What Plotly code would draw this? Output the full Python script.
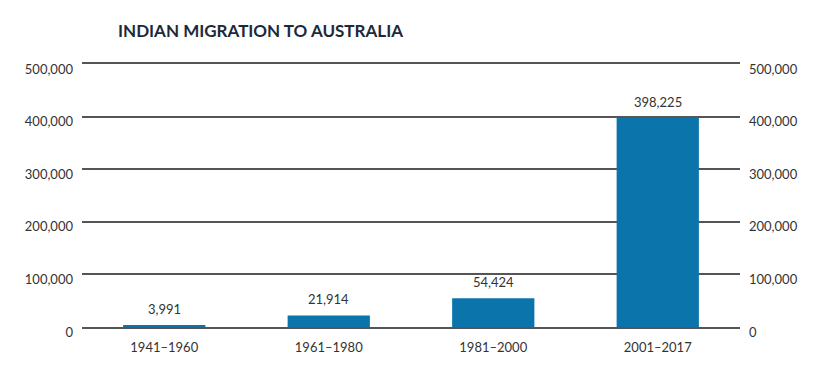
import plotly.graph_objects as go

categories = ["1941–1960", "1961–1980", "1981–2000", "2001–2017"]
values = [3991, 21914, 54424, 398225]
tick_vals = [0, 100000, 200000, 300000, 400000, 500000]
tick_text = ["0", "100,000", "200,000", "300,000", "400,000", "500,000"]
title = "INDIAN MIGRATION TO AUSTRALIA"

fig = go.Figure()
fig.add_trace(go.Bar(
    x=categories, y=values,
    marker=dict(color="#0a74ab", line=dict(width=0)),
    hoverinfo="skip",
))
fig.add_trace(go.Scatter(
    x=categories, y=values, yaxis="y2", mode="markers",
    marker=dict(opacity=0), hoverinfo="skip", showlegend=False,
))
for c, v in zip(categories, values):
    fig.add_annotation(x=c, y=v, text=f"{v:,}", showarrow=False,
                       yanchor="bottom", yshift=6,
                       font=dict(family="Lato", size=13, color="#333333"))

axis_common = dict(
    range=[0, 500000], tickvals=tick_vals, ticktext=tick_text,
    tickfont=dict(family="Lato", size=13, color="#333333"),
    zeroline=False, fixedrange=True, ticklabelshift=5,
)
fig.update_layout(
    width=840, height=369,
    margin=dict(l=82, r=100, t=64, b=42),
    paper_bgcolor="white", plot_bgcolor="white",
    showlegend=False,
    bargap=0.5,
    title=dict(text="<b>" + title + "</b>", x=118 / 840, xanchor="left",
               y=1 - 31 / 369, yanchor="middle",
               font=dict(family="Lato", size=17, color="#1b2a3a")),
    xaxis=dict(showgrid=False, showline=True, mirror=True,
               linecolor="#555555", linewidth=1.5, ticks="",
               tickfont=dict(family="Lato", size=13, color="#333333"),
               ticklabelstandoff=8, fixedrange=True),
    yaxis=dict(showgrid=True, gridcolor="#555555", gridwidth=1.5,
               showline=False, ticklabelstandoff=8, **axis_common),
    yaxis2=dict(overlaying="y", side="right", showgrid=False,
                showline=False, ticklabelstandoff=8, **axis_common),
)
fig.write_html("out.html", config={"displayModeBar": False},
               post_script="document.body.style.margin='0';")
